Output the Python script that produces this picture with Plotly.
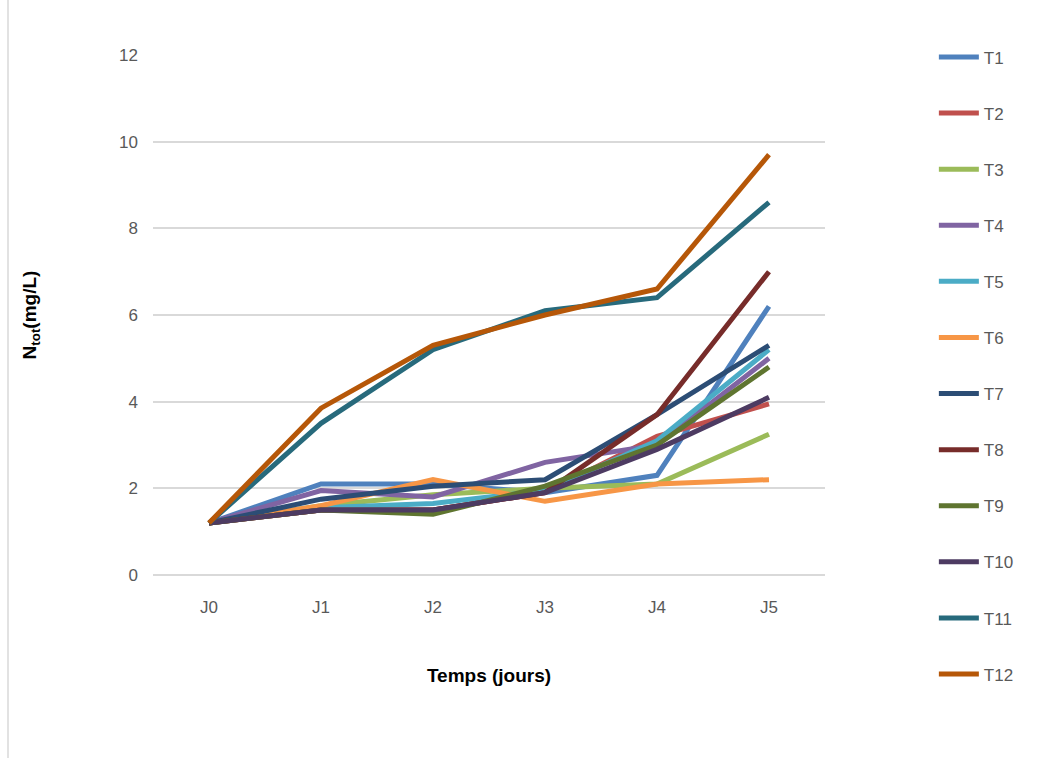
import plotly.graph_objects as go

days = ["J0", "J1", "J2", "J3", "J4", "J5"]
T1 = [1.2, 2.1, 2.1, 1.9, 2.3, 6.2]
T2 = [1.2, 1.5, 1.5, 1.9, 3.2, 3.95]
T3 = [1.2, 1.6, 1.85, 2.0, 2.1, 3.25]
T4 = [1.2, 1.95, 1.8, 2.6, 3.0, 5.0]
T5 = [1.2, 1.55, 1.65, 1.95, 3.1, 5.2]
T6 = [1.2, 1.6, 2.2, 1.7, 2.1, 2.2]
T7 = [1.2, 1.75, 2.05, 2.2, 3.7, 5.3]
T8 = [1.2, 1.5, 1.5, 1.9, 3.7, 7.0]
T9 = [1.2, 1.5, 1.4, 2.05, 3.0, 4.8]
T10 = [1.2, 1.5, 1.5, 1.9, 2.9, 4.1]
T11 = [1.2, 3.5, 5.2, 6.1, 6.4, 8.6]
T12 = [1.2, 3.85, 5.3, 6.0, 6.6, 9.7]

names = ["T1", "T2", "T3", "T4", "T5", "T6", "T7", "T8", "T9", "T10", "T11", "T12"]
series = [T1, T2, T3, T4, T5, T6, T7, T8, T9, T10, T11, T12]
colors = ["#4F81BD", "#C0504D", "#9BBB59", "#8064A2", "#4BACC6", "#F79646",
          "#2C4D75", "#772C2A", "#5F7530", "#4D3B62", "#276A7C", "#B65708"]

FONT = "Liberation Sans"
fig = go.Figure()
for n, s, c in zip(names, series, colors):
    fig.add_trace(go.Scatter(x=days, y=s, name=n, mode="lines", legendgroup=n,
                             line=dict(color=c, width=5)))

fig.update_layout(
    width=1059, height=758,
    margin=dict(l=153, r=234, t=55, b=183),
    paper_bgcolor="white", plot_bgcolor="white",
    font=dict(family=FONT, size=17, color="#595959"),
    showlegend=True,
    legend=dict(x=1.162, y=1.03, xanchor="left", yanchor="top",
                tracegroupgap=31, font=dict(size=17, color="#595959"),
                itemwidth=40, maxheight=720),
    xaxis=dict(range=[-0.5, 5.5], showgrid=False, showline=False, zeroline=False,
               ticks="", tickfont=dict(size=17, color="#595959"),
               ticklabelstandoff=20,
               title=dict(text="<b>Temps (jours)</b>", font=dict(size=19, color="black"), standoff=52)),
    yaxis=dict(range=[0, 12], dtick=2, showgrid=True, gridcolor="#D9D9D9", gridwidth=1.5,
               zeroline=True, zerolinecolor="#D9D9D9", zerolinewidth=1.5,
               showline=False, ticks="", tickfont=dict(size=17, color="#595959"),
               ticklabelstandoff=14,
               title=dict(text="<b>N<sub>tot</sub>(mg/L)</b>", font=dict(size=19, color="black"), standoff=77)),
    shapes=[dict(type="line", xref="paper", yref="paper",
                 x0=(8 - 153) / 672, x1=(8 - 153) / 672, y0=-0.4, y1=1.2,
                 line=dict(color="#D9D9D9", width=1.5))],
)

fig.write_html("out.html")
